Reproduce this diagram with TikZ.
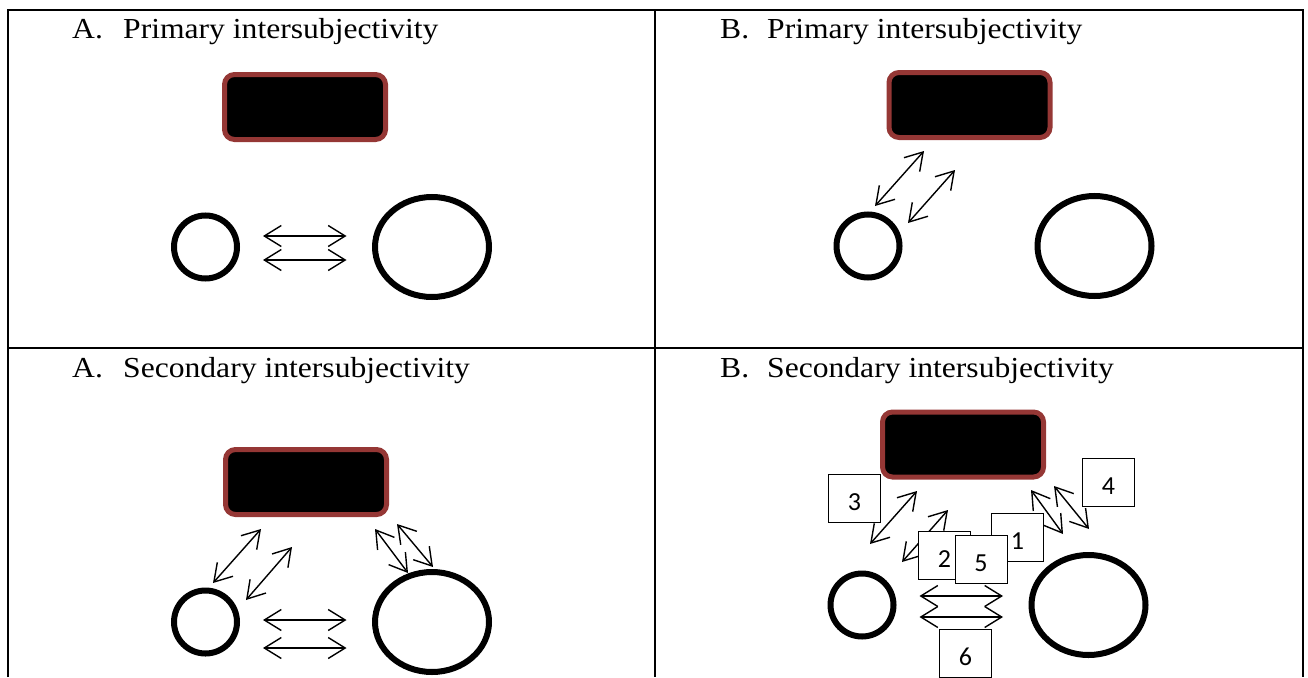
\documentclass[tikz,border=0pt]{standalone}
\usepackage{fontspec}
\newfontfamily\headfont[FakeStretch=1.09]{Liberation Serif}
\newfontfamily\numfont{Carlito}
\usetikzlibrary{positioning}
\usetikzlibrary{shapes.geometric}
\usetikzlibrary{arrows.meta}
\definecolor{objbrown}{RGB}{149,55,53}
\tikzset{node distance=132pt, % gap between the two partners
  heading/.style={anchor=base west, inner sep=0pt,
    font=\headfont\fontsize{29pt}{34pt}\selectfont},
  grid/.style={line width=2pt},
  object/.style={ % the shared object
    rectangle, rounded corners=10pt,
    fill=black, draw=objbrown, line width=5pt,
    minimum width=161pt, minimum height=65pt, inner sep=0pt},
  infant/.style={circle, draw, line width=6pt,
    minimum size=63pt, inner sep=0pt},
  adult/.style={ellipse, draw, line width=6pt,
    minimum width=114pt, minimum height=100pt, inner sep=0pt},
  link/.style={line width=1.4pt,
    {Straight Barb[length=17pt,width=21pt]}-{Straight Barb[length=17pt,width=21pt]}},
  pair/.style={link, shorten <=23pt, shorten >=25.5pt},
  numbox/.style={rectangle, draw, fill=white, line width=1pt,
    minimum width=52pt, minimum height=48pt, inner sep=0pt,
    text height=24pt, text depth=0pt,
    font=\numfont\fontsize{26pt}{30pt}\selectfont}}

\begin{document}
\begin{tikzpicture}[x=1pt,y=-1pt]
  \useasboundingbox (0,0) rectangle (1308,677);

  % table
  \draw[grid] (8,677) -- (8,10) -- (1302.7,10) -- (1302.7,677);
  \draw[grid] (8,348) -- (1302.7,348);
  \draw[grid] (654.7,10) -- (654.7,677);

  % A. primary
  \node[heading] (headA1) at (72,39) {\makebox[51pt][l]{A.}Primary intersubjectivity};
  \node[object] (obj1) at (305,107) {};
  \node[infant] (inf1) at (205.5,247) {};
  \node[adult, right=of inf1] (adu1) {};

  \draw[pair] ([yshift=11pt]inf1.east) -- ([yshift=11pt]adu1.west);
  \draw[pair] ([yshift=-13pt]inf1.east) -- ([yshift=-13pt]adu1.west);

  % B. primary
  \node[heading] (headB1) at (720,39) {\makebox[47pt][l]{B.}Primary intersubjectivity};
  \node[object] (obj2) at (969.5,105) {};
  \node[infant] (inf2) at (868,246) {};
  \node[adult, right=of inf2] (adu2) {};

  \coordinate (inf2-a) at (875,206);
  \coordinate (obj2-a) at (924,151);
  \coordinate (inf2-b) at (908,223);
  \coordinate (obj2-b) at (955,170);
  \draw[link] (inf2-a) -- (obj2-a);
  \draw[link] (inf2-b) -- (obj2-b);

  % A. secondary
  \node[heading] (headA2) at (72,377) {\makebox[51pt][l]{A.}Secondary intersubjectivity};
  \node[object] (obj3) at (306,482) {};
  \node[infant] (inf3) at (205.5,622) {};
  \node[adult, right=of inf3] (adu3) {};

  \coordinate (inf3-a) at (213,583);
  \coordinate (obj3-a) at (261,529);
  \coordinate (inf3-b) at (246,600);
  \coordinate (obj3-b) at (292,547);
  \coordinate (obj3-c) at (375,529);
  \coordinate (adu3-c) at (408,573);
  \coordinate (obj3-d) at (397,524);
  \coordinate (adu3-d) at (433,567);
  \draw[link] (inf3-a) -- (obj3-a);
  \draw[link] (inf3-b) -- (obj3-b);
  \draw[link] (obj3-c) -- (adu3-c);
  \draw[link] (obj3-d) -- (adu3-d);
  \draw[pair] ([yshift=2pt]inf3.east) -- ([yshift=2pt]adu3.west);
  \draw[pair] ([yshift=-26pt]inf3.east) -- ([yshift=-26pt]adu3.west);

  % B. secondary
  \node[heading] (headB2) at (720,377) {\makebox[47pt][l]{B.}Secondary intersubjectivity};
  \node[object] (obj4) at (963,444.5) {};
  \node[infant] (inf4) at (862,605) {};
  \node[adult, right=of inf4] (adu4) {};

  \coordinate (inf4-a) at (870,544);
  \coordinate (obj4-a) at (917,491);
  \coordinate (inf4-b) at (902,562);
  \coordinate (obj4-b) at (948,510);
  \coordinate (obj4-c) at (1031,490);
  \coordinate (adu4-c) at (1063,534);
  \coordinate (obj4-d) at (1054,486);
  \coordinate (adu4-d) at (1089,529);
  \draw[link] (inf4-a) -- (obj4-a);
  \draw[link] (inf4-b) -- (obj4-b);
  \draw[link] (obj4-c) -- (adu4-c);
  \draw[link] (obj4-d) -- (adu4-d);
  \draw[pair] ([yshift=9pt]inf4.east) -- ([yshift=9pt]adu4.west);
  \draw[pair] ([yshift=-12pt]inf4.east) -- ([yshift=-12pt]adu4.west);

  % numbered boxes, later ones on top
  \node[numbox] (num3) at (854.5,498.5) {3};
  \node[numbox] (num4) at (1108.5,482.5) {4};
  \node[numbox] (num1) at (1017.5,537.5) {1};
  \node[numbox] (num2) at (944.5,555) {2};
  \node[numbox] (num5) at (981,559) {5};
  \node[numbox] (num6) at (965.5,653.5) {6};
\end{tikzpicture}
\end{document}
